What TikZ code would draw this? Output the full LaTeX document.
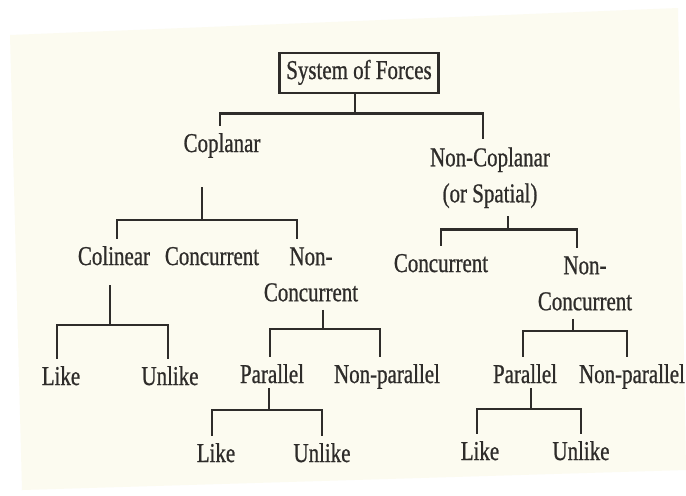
\documentclass[tikz,border=0pt]{standalone}
\usepackage{fontspec}
\setmainfont{Liberation Serif}[FakeStretch=0.77, FakeBold=0.8]
\usepackage{xcolor}
\definecolor{ink}{HTML}{2E2C2A}
\definecolor{paper}{HTML}{FCFBF0}

\begin{document}
\begin{tikzpicture}[x=0.5pt, y=-0.5pt,
                        every node/.style={font=\fontsize{13.6}{18}\selectfont, text=ink, inner sep=4pt},
                        item/.style={anchor=base, text height=9pt, text depth=3pt},
                        item2/.style={anchor=north, align=center},
                        box/.style={draw=ink, line width=1.3pt, inner xsep=3.5pt, inner ysep=4pt, text height=9pt, text depth=3pt},
                        tree/.style={draw=ink, line width=1.3pt}]
                        \useasboundingbox (0, 0) rectangle (686, 495);
                        \fill[white] (0, 0) rectangle (686, 495);
                        \fill[paper] (10, 35) -- (678, 8) -- (686, 470) -- (22, 490) -- cycle;

                        \node[box] (sys) at (359, 73) {System of Forces};
                        \node[item] (cop) at (222, 152) {Coplanar};
                        \node[item2] (ncop) at (490, 139) {Non-Coplanar\\(or Spatial)};
                        \node[item] (col) at (114, 265) {Colinear};
                        \node[item] (con1) at (212, 265) {Concurrent};
                        \node[item2] (ncon1) at (311, 239) {Non-\\Concurrent};
                        \node[item] (con2) at (441, 272) {Concurrent};
                        \node[item2] (ncon2) at (585, 248) {Non-\\Concurrent};
                        \node[item] (like1) at (61, 385) {Like};
                        \node[item] (unl1) at (170, 385) {Unlike};
                        \node[item] (par1) at (272, 383) {Parallel};
                        \node[item] (npar1) at (387, 383) {Non-parallel};
                        \node[item] (par2) at (525, 383) {Parallel};
                        \node[item] (npar2) at (632, 383) {Non-parallel};
                        \node[item] (like2) at (216, 462) {Like};
                        \node[item] (unl2) at (322, 462) {Unlike};
                        \node[item] (like3) at (480, 460) {Like};
                        \node[item] (unl3) at (581, 460) {Unlike};

                        \draw[tree]
                        ([xshift=-2pt]sys.south) -- ++(0, 19) coordinate (j0)
                        ([xshift=-1pt]cop.north) |- (j0) -| ([xshift=-3.5pt]ncop.north);

                        \draw[tree]
                        ([xshift=-10pt]cop.base) ++(0, 35) -- ++(0, 33) coordinate (j1)
                        ([xshift=1.5pt]col.north) |- (j1) -| ([xshift=-7pt]ncon1.north);

                        \draw[tree]
                        ([xshift=-2pt]col.base) ++(0, 20) -- ++(0, 40) coordinate (j2)
                        ([xshift=-2pt]like1.north) |- (j2) -| ([xshift=-1pt]unl1.north);

                        \draw[tree]
                        ([xshift=6pt]ncon1.south) -- ++(0, 19) coordinate (j3)
                        ([xshift=-1pt]par1.north) |- (j3) -| ([xshift=-3.5pt]npar1.north);

                        \draw[tree]
                        ([xshift=9pt]ncop.south) -- ++(0, 13) coordinate (j4)
                        (con2.north) |- (j4) -| ([xshift=-4pt]ncon2.north);

                        \draw[tree]
                        ([xshift=-6pt]ncon2.south) -- ++(0, 12) coordinate (j5)
                        ([xshift=-1pt]par2.north) |- (j5) -| ([xshift=-2.5pt]npar2.north);

                        \draw[tree]
                        ([xshift=-1.5pt]par1.base) ++(0, 5) -- ++(0, 22) coordinate (j6)
                        ([xshift=-2pt]like2.north) |- (j6) -| (unl2.north);

                        \draw[tree]
                        ([xshift=3pt]par2.base) ++(0, 5) -- ++(0, 21) coordinate (j7)
                        ([xshift=-1.5pt]like3.north) |- (j7) -| (unl3.north);
                    \end{tikzpicture}
\end{document}
